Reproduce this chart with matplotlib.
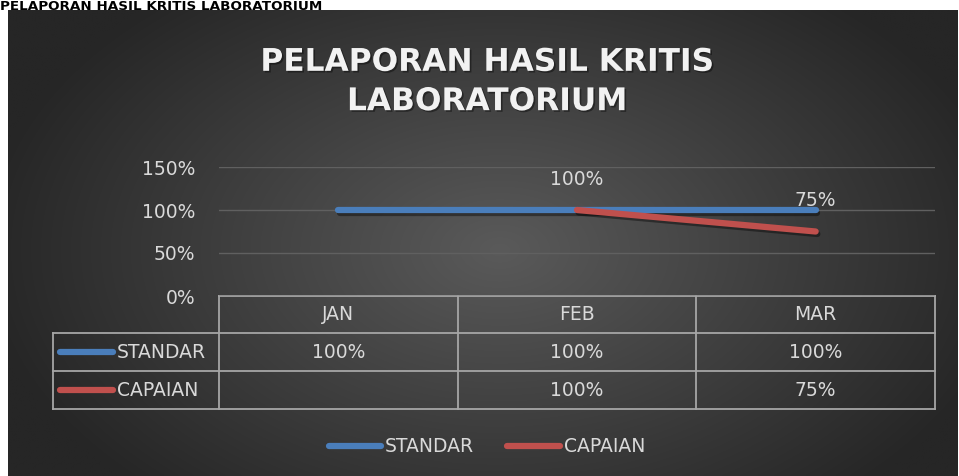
import numpy as np
import matplotlib
matplotlib.use("Agg")
import matplotlib.pyplot as plt
import matplotlib.patheffects as pe

# Data
months = ["JAN", "FEB", "MAR"]
standar = [1.00, 1.00, 1.00]
capaian = [np.nan, 1.00, 0.75]
series_names = ["STANDAR", "CAPAIAN"]
y_ticks = [0, 0.5, 1.0, 1.5]
title = "PELAPORAN HASIL KRITIS\nLABORATORIUM"
page_heading = "PELAPORAN HASIL KRITIS LABORATORIUM"

# Style
W, H = 959, 476
blue = "#4a7ebb"
red = "#c0504d"
txt = "#d9d9d9"
tbl = "#a6a6a6"
font = "DejaVu Sans"
fs = 13.5

fig = plt.figure(figsize=(W / 100, H / 100), dpi=100)
fig.patch.set_facecolor("white")

# pixel overlay axes for background, table and legend
ov = fig.add_axes([0, 0, 1, 1], zorder=0)
ov.set_xlim(0, W)
ov.set_ylim(H, 0)
ov.axis("off")

# radial gradient panel
px0, px1, py0, py1 = 8, 958, 10, 476
gx, gy = np.meshgrid(np.linspace(px0, px1, 400), np.linspace(py0, py1, 200))
r = np.sqrt(((gx - 500) / 520) ** 2 + ((gy - 250) / 330) ** 2)
r = np.clip(r, 0, 1)
shade = 0x5a / 255 * (1 - r) + 0x26 / 255 * r
img = np.dstack([shade, shade, shade])
ov.imshow(img, extent=(px0, px1, py1, py0), aspect="auto", interpolation="bilinear", zorder=0)

# heading above panel
ov.text(0, 9.8, page_heading, fontsize=9.7, fontweight="bold", family=font,
        color="black", ha="left", va="baseline", zorder=1)

# chart title
ov.text(487, 82, title, fontsize=22.5, fontweight="bold", family=font, color="#f2f2f2",
        ha="center", va="center", linespacing=1.45, zorder=2,
        path_effects=[pe.withSimplePatchShadow(offset=(1.2, -1.2), shadow_rgbFace="black", alpha=0.4)])

# plot axes
left, right, top, bottom = 219, 935, 167, 296
ax = fig.add_axes([left / W, 1 - bottom / H, (right - left) / W, (bottom - top) / H], zorder=3)
ax.patch.set_alpha(0)
x = np.arange(len(months))
line_fx = [pe.SimpleLineShadow(offset=(1.2, -1.8), shadow_color="black", alpha=0.4), pe.Normal()]
ax.plot(x, standar, color=blue, lw=4.5, solid_capstyle="round", path_effects=line_fx, zorder=3)
ax.plot(x, capaian, color=red, lw=4.5, solid_capstyle="round", path_effects=line_fx, zorder=4)
for xi, v in zip(x, capaian):
    if not np.isnan(v):
        ax.annotate(f"{v:.0%}", (xi, v), xytext=(0, 22), textcoords="offset points",
                    ha="center", va="center", fontsize=fs, family=font, color=txt, zorder=5)
ax.set_xlim(-0.5, len(months) - 0.5)
ax.set_ylim(0, 1.5)
ax.set_yticks(y_ticks)
ax.set_yticklabels([f"{t:.0%}" for t in y_ticks], fontsize=fs, family=font, color=txt)
ax.set_xticks([])
ax.tick_params(axis="y", length=0, pad=17)
for s in ax.spines.values():
    s.set_visible(False)
ax.grid(axis="y", color="#606060", lw=1)
ax.set_axisbelow(True)

# data table
col_edges = np.linspace(left, right, len(months) + 1)
row_edges = [296, 333, 371, 409]
leg_left = 53
kw = dict(color=tbl, lw=1.3, zorder=2)
ov.plot([left, right], [row_edges[0]] * 2, **kw)
for yy in row_edges[1:]:
    ov.plot([leg_left, right], [yy] * 2, **kw)
for xx in col_edges:
    ov.plot([xx, xx], [row_edges[0], row_edges[-1]], **kw)
ov.plot([leg_left, leg_left], [row_edges[1], row_edges[-1]], **kw)

centers_x = (col_edges[:-1] + col_edges[1:]) / 2
row_c = [(row_edges[i] + row_edges[i + 1]) / 2 for i in range(3)]
for cx, m in zip(centers_x, months):
    ov.text(cx, row_c[0], m, fontsize=fs, family=font, color=txt, ha="center", va="center", zorder=3)
for ri, (name, vals, col) in enumerate(zip(series_names, [standar, capaian], [blue, red])):
    yy = row_c[ri + 1]
    ov.plot([60, 113], [yy, yy], color=col, lw=4.5, solid_capstyle="round", zorder=3)
    ov.text(117, yy, name, fontsize=fs, family=font, color=txt, ha="left", va="center", zorder=3)
    for cx, v in zip(centers_x, vals):
        if not np.isnan(v):
            ov.text(cx, yy, f"{v:.0%}", fontsize=fs, family=font, color=txt,
                    ha="center", va="center", zorder=3)

# bottom legend
for (x0, x1, tx), name, col in zip([(329, 381, 385), (507, 560, 564)], series_names, [blue, red]):
    ov.plot([x0, x1], [446, 446], color=col, lw=4.5, solid_capstyle="round", zorder=3)
    ov.text(tx, 446, name, fontsize=fs, family=font, color=txt, ha="left", va="center", zorder=3)

fig.savefig("out.png", dpi=100, facecolor=fig.get_facecolor())
